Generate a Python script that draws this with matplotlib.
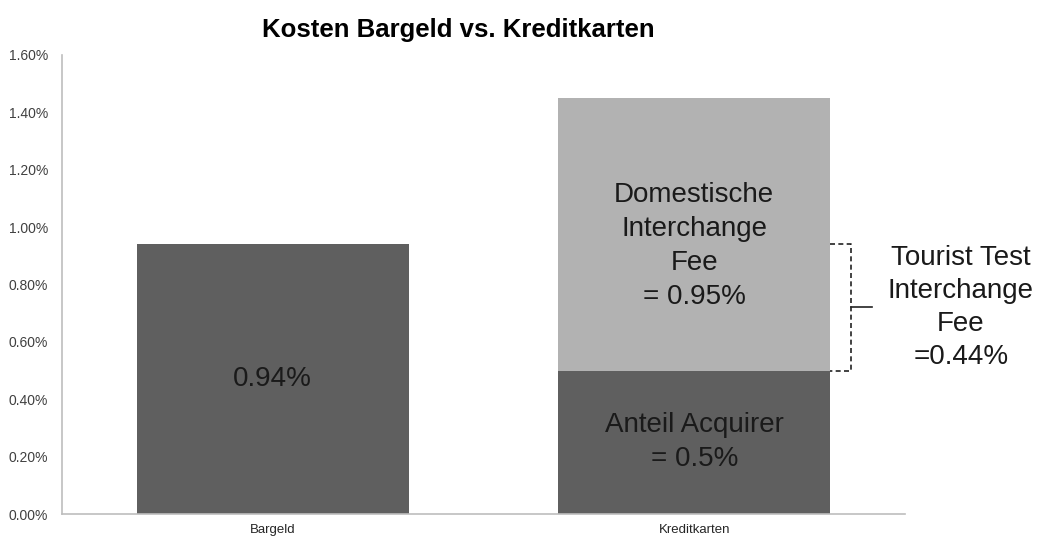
import numpy as np
import matplotlib.pyplot as plt
from matplotlib.ticker import FuncFormatter

plt.rcParams['font.family'] = ['Liberation Sans', 'DejaVu Sans']

categories = ["Bargeld", "Kreditkarten"]
base_values = [0.94, 0.50]       # Bargeld total, Anteil Acquirer
top_values = [0.0, 0.95]         # Domestische Interchange Fee
tourist_fee = 0.44
yticks = np.arange(0, 1.61, 0.2)

dark = '#5f5f5f'
light = '#b2b2b2'
width = 0.645

fig = plt.figure(figsize=(10.37, 5.37), dpi=100)
ax = fig.add_axes([0.0598, 0.0428, 0.8129, 0.8548])
x = np.arange(len(categories))

ax.bar(x, base_values, width=width, color=dark, zorder=2)
ax.bar(x, top_values, width=width, bottom=base_values, color=light, zorder=2)

ax.set_xlim(-0.5, 1.5)
ax.set_ylim(0, 1.6)
ax.set_yticks(yticks)
ax.yaxis.set_major_formatter(FuncFormatter(lambda v, p: f"{v:.2f}%"))
ax.set_xticks(x)
ax.set_xticklabels(categories, fontsize=9.5, color='#262626')
ax.tick_params(axis='y', labelsize=10, colors='#404040', length=0, pad=10)
ax.tick_params(axis='x', length=0, pad=7)
for s in ['top', 'right']:
    ax.spines[s].set_visible(False)
for s in ['left', 'bottom']:
    ax.spines[s].set_color('#bdbdbd')
    ax.spines[s].set_linewidth(1.2)

ax.set_title("Kosten Bargeld vs. Kreditkarten", fontsize=18.5, fontweight='bold',
             pad=13, x=0.47)

# labels inside the bars
txt = dict(ha='center', va='center', fontsize=20, color='#1a1a1a', linespacing=1.4)
ax.text(x[0], base_values[0] / 2, f"{base_values[0]:.2f}%", **txt)
ax.text(x[1], base_values[1] / 2, f"Anteil Acquirer\n= {base_values[1]}%", **txt)
ax.text(x[1], base_values[1] + top_values[1] / 2 - 0.04,
        f"Domestische\nInterchange\nFee\n= {top_values[1]:.2f}%", **txt)

# dashed bracket for the tourist test fee
x0 = x[1] + width / 2
x1 = x0 + 0.05
y0 = base_values[1]
y1 = base_values[1] + tourist_fee
ym = (y0 + y1) / 2
ax.plot([x0, x1, x1, x0], [y1, y1, y0, y0], color='#222222', lw=1.2,
        ls=(0, (3, 2)), clip_on=False, zorder=3)
ax.plot([x1, x1 + 0.05], [ym, ym], color='#222222', lw=1.2, clip_on=False)
txt['linespacing'] = 1.35
ax.text(x1 + 0.26, ym, f"Tourist Test\nInterchange\nFee\n={tourist_fee}%",
        clip_on=False, **txt)

fig.savefig("out.png", dpi=100, facecolor='white')
